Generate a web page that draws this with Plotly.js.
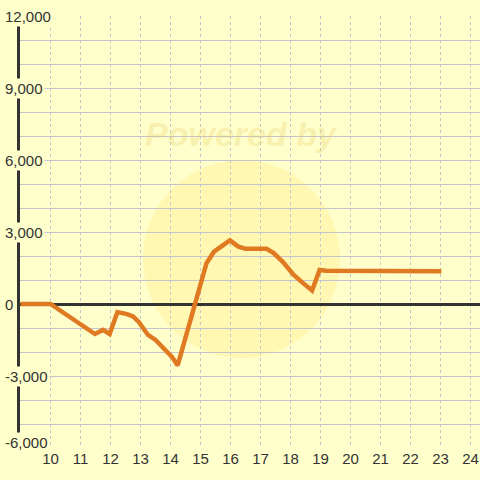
<!DOCTYPE html>
<html>
<head>
<meta charset="utf-8">
<script src="https://cdn.plot.ly/plotly-3.0.1.min.js"></script>
<style>html,body{margin:0;padding:0;background:#ffffcc;}#chart{width:480px;height:480px;}</style>
</head>
<body>
<div id="chart"></div>
<script>
// Data (x in hours, y in value)
var hours = [9, 10, 11.48, 11.75, 11.97, 12.23, 12.55, 12.75, 12.95, 13.25, 13.5, 13.82, 14.05, 14.24, 15.2, 15.45, 15.68, 15.98, 16.25, 16.5, 17.2, 17.43, 17.75, 18.1, 18.4, 18.72, 18.97, 19.2, 23.03];
var values = [0, 0, -1250, -1080, -1250, -340, -420, -520, -760, -1290, -1500, -1920, -2200, -2560, 1700, 2180, 2370, 2650, 2400, 2300, 2300, 2130, 1750, 1220, 890, 560, 1420, 1390, 1360];
var xTicks = [10, 11, 12, 13, 14, 15, 16, 17, 18, 19, 20, 21, 22, 23, 24];
var yTicks = [-6000, -3000, 0, 3000, 6000, 9000, 12000];
var yTickText = ['-6,000', '-3,000', '0', '3,000', '6,000', '9,000', '12,000'];

var FONT = 'Liberation Sans, Arial, sans-serif';
var BG = '#ffffcc';

var trace = {
  x: hours, y: values, type: 'scatter', mode: 'lines',
  line: {color: '#e07a22', width: 4.5},
  hoverinfo: 'skip'
};

// y tick labels, drawn at the axis' own tick values, with a background box like the reference
var yLabelAnnots = yTicks.map(function (v, i) {
  return {
    xref: 'paper', yref: 'y', x: (3 - 20) / 460, y: v,
    xanchor: 'left', yanchor: 'middle',
    yshift: v === yTicks[0] ? 6 : 0,
    text: yTickText[i], showarrow: false,
    bgcolor: BG, borderpad: 1,
    font: {family: FONT, size: 15, color: '#333333'}
  };
});

var layout = {
  width: 480, height: 480,
  margin: {l: 20, r: 0, t: 16, b: 32},
  paper_bgcolor: BG,
  plot_bgcolor: BG,
  font: {family: FONT, size: 15, color: '#333333'},
  showlegend: false,
  xaxis: {
    range: [8.983, 24.317],
    tickvals: xTicks,
    ticktext: xTicks.map(String),
    showgrid: true, gridcolor: '#c4c4cc', griddash: '3px,3px', gridwidth: 1,
    zeroline: false, showline: false, ticks: '',
    fixedrange: true
  },
  yaxis: {
    range: [-6000, 12000],
    tickvals: yTicks,
    showticklabels: false,
    showgrid: true, gridcolor: '#c4c4cc', gridwidth: 1,
    minor: {dtick: 1000, tick0: 0, showgrid: true, gridcolor: '#c4c4cc', gridwidth: 1},
    zeroline: true, zerolinecolor: '#333333', zerolinewidth: 3,
    showline: true, linecolor: '#333333', linewidth: 3,
    ticks: '',
    fixedrange: true
  },
  shapes: [{
    type: 'circle', xref: 'paper', yref: 'paper',
    x0: (143 - 20) / 460, x1: (340 - 20) / 460,
    y0: (448 - 358) / 432, y1: (448 - 160) / 432,
    fillcolor: 'rgba(255, 222, 100, 0.25)',
    line: {width: 0},
    layer: 'below'
  }],
  annotations: [{
    xref: 'paper', yref: 'paper',
    x: (241 - 20) / 460, y: (448 - 134) / 432,
    xanchor: 'center', yanchor: 'middle',
    text: '<b><i>Powered by</i></b>', showarrow: false,
    font: {family: FONT, size: 34, color: 'rgba(230, 205, 100, 0.3)'}
  }].concat(yLabelAnnots)
};

Plotly.newPlot('chart', [trace], layout, {displayModeBar: false, staticPlot: true});
</script>
</body>
</html>
